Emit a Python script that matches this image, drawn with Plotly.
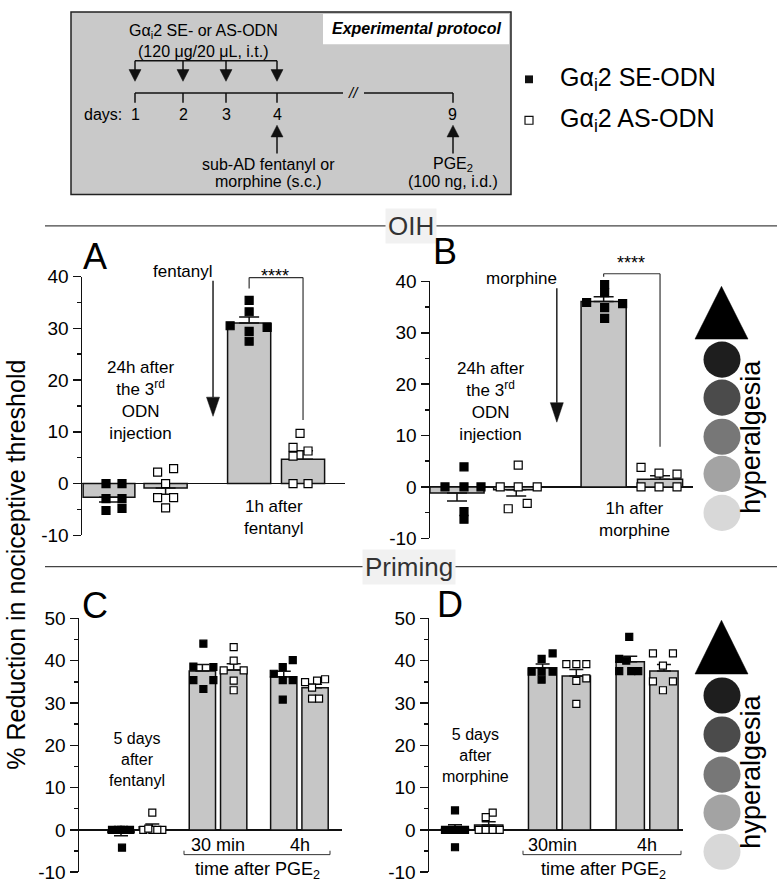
import numpy as np
import plotly.graph_objects as go

W, H = 777, 892
FONT = "Liberation Sans, Arial, Helvetica, sans-serif"

# ---------------- data ----------------
# Panel A (OIH, fentanyl): SE / AS at 24h after 3rd ODN, and 1h after fentanyl
A_se_24h = [0, 0, -2.9, -2.9, -5.2, -4.8]
A_as_24h = [2.2, 2.9, 0, -2.7, -2.7, -4.7]
A_se_1h = [35.4, 33.2, 30.5, 30.2, 29.4, 27.5]
A_as_1h = [9.7, 7.0, 6.3, 5.3, 0, 0]

# Panel B (OIH, morphine)
B_se_24h = [3.9, 0, 0, 0, -4.8, -6.3]
B_as_24h = [4.25, 0, 0, 0, -4.25, -3.2]
B_se_1h = [39.4, 37.8, 35.9, 35.7, 34.9, 32.8]
B_as_1h = [3.8, 2.7, 2.5, 0, 0, 0]

# Panel C (Priming, fentanyl): 5 days, 30 min and 4h after PGE2
C_se_5d = [0, 0, 0, 0, 0, -4.2]
C_as_5d = [4.1, 0, 0, 0, 0.3, 0]
C_se_30 = [44.0, 38.6, 38.5, 35.4, 35.4, 33.3]
C_as_30 = [43.2, 40.0, 37.7, 37.7, 35.3, 33.0]
C_se_4h = [40.1, 38.5, 36.9, 35.4, 35.4, 30.8]
C_as_4h = [34.9, 35.3, 35.6, 31.0, 31.0, 33.6]

# Panel D (Priming, morphine)
D_se_5d = [4.6, 0, 0, 0, 0, -4.1]
D_as_5d = [4.1, 3.0, 0, 0, 0, 0]
D_se_30 = [41.7, 40.4, 37.4, 37.4, 37.4, 35.5]
D_as_30 = [39.2, 39.2, 39.2, 35.2, 35.8, 29.8]
D_se_4h = [45.6, 40.4, 40.0, 37.5, 37.5, 37.5]
D_as_4h = [41.7, 41.7, 38.8, 35.1, 35.1, 33.0]

Y_TICKS_AB = [-10, 0, 10, 20, 30, 40]
Y_TICKS_CD = [-10, 0, 10, 20, 30, 40, 50]
Y_MINOR_AB = [-5, 5, 15, 25, 35]
Y_MINOR_CD = [-5, 5, 15, 25, 35, 45]
CIRCLE_SHADES = ["#1e1e1e", "#4b4b4b", "#777777", "#a3a3a3", "#d8d8d8"]

# ---------------- layout / style ----------------
panels = {
    "A": dict(ax="", xdom=(82, 345), ydom=(273, 538), x0=109, unit=53.9, yr=(-10, 40),
              pos=[0, 1.05, 2.6, 3.6], widths=[0.96, 0.8, 0.8, 0.8],
              groups=[A_se_24h, A_as_24h, A_se_1h, A_as_1h],
              jit=[[-3, 13, -3, 13, -3, 13], [-8, 8, 0, -8, 8, 0],
                   [0, 0, -19, 18, 0, 0], [-3, -10, 5, -10, -10, 5]],
              msize=8, cap=10, ticks=Y_TICKS_AB, minor=Y_MINOR_AB),
    "B": dict(ax="2", xdom=(430, 693), ydom=(278, 541), x0=457, unit=56.4, yr=(-10, 40),
              pos=[0, 1.05, 2.6, 3.6], widths=[0.96, 0.8, 0.8, 0.8],
              groups=[B_se_24h, B_as_24h, B_se_1h, B_as_1h],
              jit=[[7, -12, 7, 24, 7, 7], [2, -16, 2, 21, -8, 11],
                   [1, 1, -17, 19, 1, 1], [-19, -1, 17, -19, -1, 17]],
              msize=8, cap=10, ticks=Y_TICKS_AB, minor=Y_MINOR_AB),
    "C": dict(ax="3", xdom=(79, 342), ydom=(623, 883), x0=121, unit=31.3, yr=(-10, 50),
              pos=[0, 1, 2.6, 3.6, 5.2, 6.2], widths=[0.84] * 6,
              groups=[C_se_5d, C_as_5d, C_se_30, C_as_30, C_se_4h, C_as_4h],
              jit=[[-9, -3, 3, 9, 0, 1], [0, -9, 0, 10, -4, 5],
                   [1, -9, 11, -9, 11, 1], [0, 0, -10, 10, 0, 0],
                   [9, -1, -10, -1, 9, -1], [-10, 2, 10, -3, 4, -3]],
              msize=7, cap=7, ticks=Y_TICKS_CD, minor=Y_MINOR_CD),
    "D": dict(ax="4", xdom=(429, 683), ydom=(623, 883), x0=455, unit=33.7, yr=(-10, 50),
              pos=[0, 1, 2.6, 3.6, 5.2, 6.2], widths=[0.84] * 6,
              groups=[D_se_5d, D_as_5d, D_se_30, D_as_30, D_se_4h, D_as_4h],
              jit=[[0, -10, -3, 3, 10, 0], [4, -3, -10, -3, 4, 11],
                   [10, -1, -11, 10, -1, -1], [-10, 0, 10, 0, 10, 0],
                   [-1, -11, -4, -11, 1, 8], [-11, 9, -1, -11, 9, -1]],
              msize=7, cap=7, ticks=Y_TICKS_CD, minor=Y_MINOR_CD),
}


def xp(px):
    return px / W


def yp(py):
    return 1 - py / H


def d2p(p, xv, yv):
    xpx = p["x0"] + xv * p["unit"]
    ytop, ybot = p["ydom"]
    r0, r1 = p["yr"]
    ypx = ybot - (yv - r0) / (r1 - r0) * (ybot - ytop)
    return xp(xpx), yp(ypx)


fig = go.Figure()
layout_axes = {}

for key, p in panels.items():
    ax = p["ax"]
    means, plus, minus = [], [], []
    for g in p["groups"]:
        v = np.array(g, dtype=float)
        m = v.mean()
        s = v.std(ddof=1) / np.sqrt(len(v))
        means.append(m)
        plus.append(s if m >= 0 else 0)
        minus.append(0 if m >= 0 else s)
    fig.add_trace(go.Bar(
        x=p["pos"], y=means, width=p["widths"],
        marker=dict(color="#c6c6c6", line=dict(color="#111", width=1.5)),
        error_y=dict(type="data", symmetric=False, array=plus, arrayminus=minus,
                     color="#111", thickness=1.5, width=p["cap"]),
        xaxis="x" + ax, yaxis="y" + ax, hoverinfo="skip"))
    for i, g in enumerate(p["groups"]):
        filled = (i % 2 == 0)
        xs = [p["pos"][i] + j / p["unit"] for j in p["jit"][i]]
        fig.add_trace(go.Scatter(
            x=xs, y=g, mode="markers", cliponaxis=False,
            marker=dict(symbol="square", size=p["msize"],
                        color="black" if filled else "white",
                        line=dict(color="black", width=1.2)),
            xaxis="x" + ax, yaxis="y" + ax, hoverinfo="skip"))
    xr = ((p["xdom"][0] - p["x0"]) / p["unit"], (p["xdom"][1] - p["x0"]) / p["unit"])
    layout_axes["xaxis" + ax] = dict(
        domain=[xp(p["xdom"][0]), xp(p["xdom"][1])], range=list(xr), visible=False,
        anchor="y" + ax, fixedrange=True)
    layout_axes["yaxis" + ax] = dict(
        domain=[yp(p["ydom"][1]), yp(p["ydom"][0])], range=list(p["yr"]),
        anchor="x" + ax, showline=True, linecolor="#111", linewidth=1.5,
        ticks="outside", ticklen=8, tickwidth=1.5, tickcolor="#111",
        tickmode="array", tickvals=p["ticks"], ticktext=[str(t) for t in p["ticks"]],
        tickfont=dict(family=FONT, size=19, color="black"),
        minor=dict(tickmode="array", tickvals=p["minor"], ticks="outside", ticklen=4,
                   tickwidth=1.5, tickcolor="#111", showgrid=False),
        showgrid=False, zeroline=True, zerolinecolor="#111", zerolinewidth=1.5,
        fixedrange=True)

shapes = []
annotations = []


def line_px(x0, y0, x1, y1, w=1.5, color="#111"):
    shapes.append(dict(type="line", xref="paper", yref="paper",
                       x0=xp(x0), y0=yp(y0), x1=xp(x1), y1=yp(y1),
                       line=dict(color=color, width=w)))


def line_p(x0, y0, x1, y1, w=1.2, color="#333"):
    shapes.append(dict(type="line", xref="paper", yref="paper",
                       x0=x0, y0=y0, x1=x1, y1=y1, line=dict(color=color, width=w)))


def poly_p(pts, color="#111"):
    path = "M " + " L ".join(f"{a:.5f},{b:.5f}" for a, b in pts) + " Z"
    shapes.append(dict(type="path", xref="paper", yref="paper", path=path,
                       fillcolor=color, line=dict(color=color, width=0.5)))


def poly_px(pts, color="#111"):
    poly_p([(xp(a), yp(b)) for a, b in pts], color)


def rect_px(x0, y0, x1, y1, fill, lc=None, lw=0):
    shapes.append(dict(type="rect", xref="paper", yref="paper",
                       x0=xp(x0), y0=yp(y1), x1=xp(x1), y1=yp(y0), fillcolor=fill,
                       line=dict(color=lc or fill, width=lw), layer="above"))


def ann(text, x, y, size, xanchor="center", yanchor="middle", color="black", **kw):
    annotations.append(dict(text=text, x=xp(x), y=yp(y), xref="paper", yref="paper",
                            showarrow=False, xanchor=xanchor, yanchor=yanchor,
                            font=dict(family=FONT, size=size, color=color), **kw))


# ---------- protocol box ----------
rect_px(71, 2, 511, 189, "#c9c9c9", "#222", 1.5)
rect_px(323, 4, 509, 35, "#ffffff")
ann("<b><i>Experimental protocol</i></b>", 416, 19, 16)
ann("Gα<sub>i</sub>2 SE- or AS-ODN", 203, 22, 16)
ann("(120 μg/20 μL, i.t.)", 203, 42, 16)
inj_x = [135, 183, 226, 277]
line_px(135, 52, 277, 52)
for xv in inj_x:
    line_px(xv, 52, xv, 62)
    poly_px([(xv - 6, 61), (xv + 6, 61), (xv, 73)])
line_px(135, 85, 343, 85)
line_px(364, 85, 453, 85)
ann("<i>//</i>", 353, 84, 15)
ann("days:", 103, 107, 16)
for xv, lab in zip(inj_x + [453], ["1", "2", "3", "4", "9"]):
    line_px(xv, 85, xv, 95)
    ann(lab, xv, 107, 16)
for xv in [277, 453]:
    line_px(xv, 147, xv, 128)
    poly_px([(xv - 6, 130), (xv + 6, 130), (xv, 118)])
ann("sub-AD fentanyl or", 268, 158, 16)
ann("morphine (s.c.)", 268, 176, 16)
ann("PGE<sub>2</sub>", 453, 158, 16)
ann("(100 ng, i.d.)", 453, 176, 16)

# ---------- legend ----------
rect_px(525, 67, 533, 75, "#111")
rect_px(525, 109, 533, 117, "#ffffff", "#111", 1.2)
ann("Gα<sub>i</sub>2 SE-ODN", 558, 71, 25, xanchor="left")
ann("Gα<sub>i</sub>2 AS-ODN", 558, 113, 25, xanchor="left")

# ---------- section separators ----------
line_px(45, 221, 777, 221, 1.3, "#444")
line_px(45, 570, 777, 570, 1.3, "#444")
ann("OIH", 411, 221, 26, color="#333", bgcolor="#f1f1f1", borderpad=2)
ann("Priming", 409, 570, 26, color="#333", bgcolor="#f1f1f1", borderpad=2)

# ---------- y title ----------
ann("% Reduction in nociceptive threshold", 16, 568, 25, textangle=-90)

# ---------- panel letters ----------
ann("A", 95, 252, 36)
ann("B", 445, 247, 36)
ann("C", 95, 610, 36)
ann("D", 450, 609, 36)

# ---------- panel A/B decorations ----------
pA, pB, pC, pD = panels["A"], panels["B"], panels["C"], panels["D"]
for p, ytop, yleft, yright in [(pA, 39.8, 37.7, 12.3), (pB, 41.5, 40.9, 7.8)]:
    xl, xr_ = p["pos"][2], p["pos"][3]
    a = d2p(p, xl, yleft); b = d2p(p, xl, ytop); c = d2p(p, xr_, ytop); d = d2p(p, xr_, yright)
    line_p(a[0], a[1], b[0], b[1])
    line_p(b[0], b[1], c[0], c[1])
    line_p(c[0], c[1], d[0], d[1])

for p, xa, ystart, ybase, ytip in [(pA, 1.93, 39.2, 16.7, 13.0), (pB, 1.77, 38.7, 16.4, 12.6)]:
    s = d2p(p, xa, ystart); b = d2p(p, xa, ybase); t = d2p(p, xa, ytip)
    line_p(s[0], s[1], b[0], b[1], 1.4, "#111")
    poly_p([(b[0] - xp(6.5), b[1]), (b[0] + xp(6.5), b[1]), (t[0], t[1])])

ann("fentanyl", 215, 268, 17, xanchor="right")
ann("morphine", 559, 275, 17, xanchor="right")
ann("****", 275, 272, 18)
ann("****", 631, 259, 18)
ann("24h after<br>the 3<sup>rd</sup><br>ODN<br>injection", 140, 400, 17)
ann("24h after<br>the 3<sup>rd</sup><br>ODN<br>injection", 490, 401, 17)
ann("1h after<br>fentanyl", 274, 520, 17)
ann("1h after<br>morphine", 634, 522, 17)

# ---------- panel C/D decorations ----------
ann("5 days<br>after<br>fentanyl", 137, 768, 16)
ann("5 days<br>after<br>morphine", 475, 763, 16)
ann("30 min", 218, 855, 18)
ann("4h", 300, 855, 18)
ann("30min", 552, 855, 18)
ann("4h", 647, 855, 18)
ann("time after PGE<sub>2</sub>", 257, 881, 18)
ann("time after PGE<sub>2</sub>", 603, 881, 18)
for x0b, x1b in [(184, 330), (523, 681)]:
    line_px(x0b, 865, x1b, 865, 1.0, "#333")
    line_px(x0b, 865, x0b, 861, 1.0, "#333")
    line_px(x1b, 865, x1b, 861, 1.0, "#333")

# ---------- hyperalgesia scales ----------
for tri_top, tri_bot, cys, tcy in [(283, 337, [358, 397, 437, 475, 515], 437),
                                   (625, 680, [702, 742, 783, 822, 862], 780)]:
    poly_px([(695, tri_bot), (748, tri_bot), (721.5, tri_top)], "#000")
    for cy, col in zip(cys, CIRCLE_SHADES):
        r = 18.5
        shapes.append(dict(type="circle", xref="paper", yref="paper",
                           x0=xp(722 - r), x1=xp(722 + r), y0=yp(cy + r), y1=yp(cy - r),
                           fillcolor=col, line=dict(color=col, width=0)))
    ann("hyperalgesia", 751, tcy, 27, textangle=-90)

fig.update_layout(
    width=W, height=H, margin=dict(l=0, r=0, t=0, b=0),
    paper_bgcolor="white", plot_bgcolor="rgba(0,0,0,0)",
    showlegend=False, barmode="overlay",
    font=dict(family=FONT, color="black"),
    shapes=shapes, annotations=annotations, **layout_axes)

fig.write_html(
    "out.html",
    config={"displayModeBar": False, "staticPlot": True},
    post_script="document.body.style.margin='0';document.body.style.overflow='hidden';")
